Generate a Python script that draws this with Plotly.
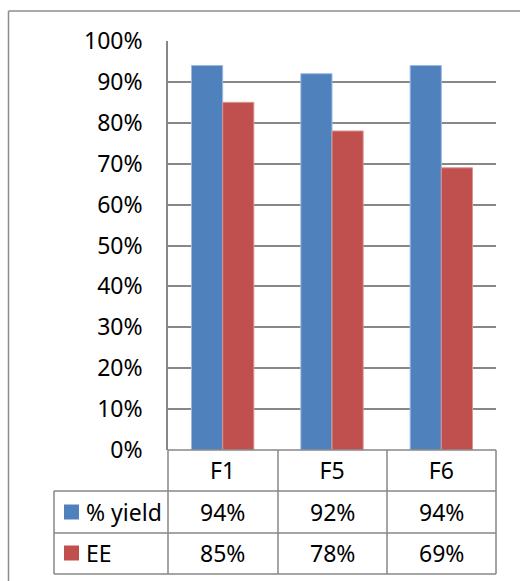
import plotly.graph_objects as go

categories = ["F1", "F5", "F6"]
yield_vals = [0.94, 0.92, 0.94]
ee_vals = [0.85, 0.78, 0.69]
series_names = ["% yield", "EE"]
colors = ["#4F81BD", "#C0504D"]
edge_colors = ["#9DB9DE", "#D99694"]

W, H = 520, 581
L, R, T, B = 168, 496, 41, 450
FONT = "Noto Sans"
FS = 23
GRID = "#878787"

def px(x):
    return (x - L) / (R - L)

def py(y):
    return (B - y) / (B - T)

fig = go.Figure()
for name, vals, c, ec in zip(series_names, [yield_vals, ee_vals], colors, edge_colors):
    fig.add_trace(go.Bar(x=categories, y=vals, name=name,
                         marker=dict(color=c, line=dict(color=ec, width=1))))

shapes = []
line = dict(color=GRID, width=1.5)
frame = dict(color="#8C8C8C", width=1.5)
# outer frame (left and top edges visible)
shapes.append(dict(type="line", xref="paper", yref="paper",
                   x0=px(8.5), x1=px(8.5), y0=py(11), y1=py(600), line=frame, layer="below"))
shapes.append(dict(type="line", xref="paper", yref="paper",
                   x0=px(8.5), x1=px(540), y0=py(11), y1=py(11), line=frame, layer="below"))
# table horizontal lines
shapes.append(dict(type="line", xref="paper", yref="paper", x0=px(168), x1=px(496), y0=py(450), y1=py(450), line=line))
for yy in [491, 533, 574]:
    shapes.append(dict(type="line", xref="paper", yref="paper", x0=px(54), x1=px(496), y0=py(yy), y1=py(yy), line=line))
# table vertical lines
shapes.append(dict(type="line", xref="paper", yref="paper", x0=px(54), x1=px(54), y0=py(491), y1=py(574), line=line))
for xx in [168, 278, 387, 496]:
    shapes.append(dict(type="line", xref="paper", yref="paper", x0=px(xx), x1=px(xx), y0=py(450), y1=py(574), line=line))
# legend keys
for yc, c in zip([512, 553], colors):
    shapes.append(dict(type="rect", xref="paper", yref="paper",
                       x0=px(64), x1=px(79), y0=py(yc - 7.5), y1=py(yc + 7.5),
                       fillcolor=c, line=dict(width=0)))

annotations = []
for yc, name, vals in zip([512, 553], series_names, [yield_vals, ee_vals]):
    annotations.append(dict(xref="paper", yref="paper", x=px(84), y=py(yc), text=name,
                            showarrow=False, xanchor="left", yanchor="middle",
                            font=dict(family=FONT, size=FS, color="black")))
    for cat, v in zip(categories, vals):
        annotations.append(dict(xref="x", yref="paper", x=cat, y=py(yc), text=f"{round(v*100)}%",
                                showarrow=False, xanchor="center", yanchor="middle",
                                font=dict(family=FONT, size=FS, color="black")))

fig.update_layout(
    width=W, height=H,
    margin=dict(l=L, r=W - R, t=T, b=H - B, pad=0),
    paper_bgcolor="white", plot_bgcolor="white",
    barmode="group", bargap=0.43, bargroupgap=0,
    showlegend=False,
    font=dict(family=FONT, size=FS, color="black"),
    shapes=shapes, annotations=annotations,
    xaxis=dict(showgrid=False, showline=False, zeroline=False, ticks="",
               ticklabelstandoff=5, tickfont=dict(family=FONT, size=FS, color="black")),
    yaxis=dict(range=[0, 1], dtick=0.1, tick0=0, tickformat=".0%",
               showgrid=True, gridcolor=GRID, gridwidth=1.5,
               showline=True, linecolor=GRID, linewidth=1.5, zeroline=False,
               ticks="", ticklabelstandoff=19,
               tickfont=dict(family=FONT, size=FS, color="black")),
)

fig.write_html("out.html", config={"displayModeBar": False},
               post_script="document.body.style.margin='0';document.body.style.overflow='hidden';")
